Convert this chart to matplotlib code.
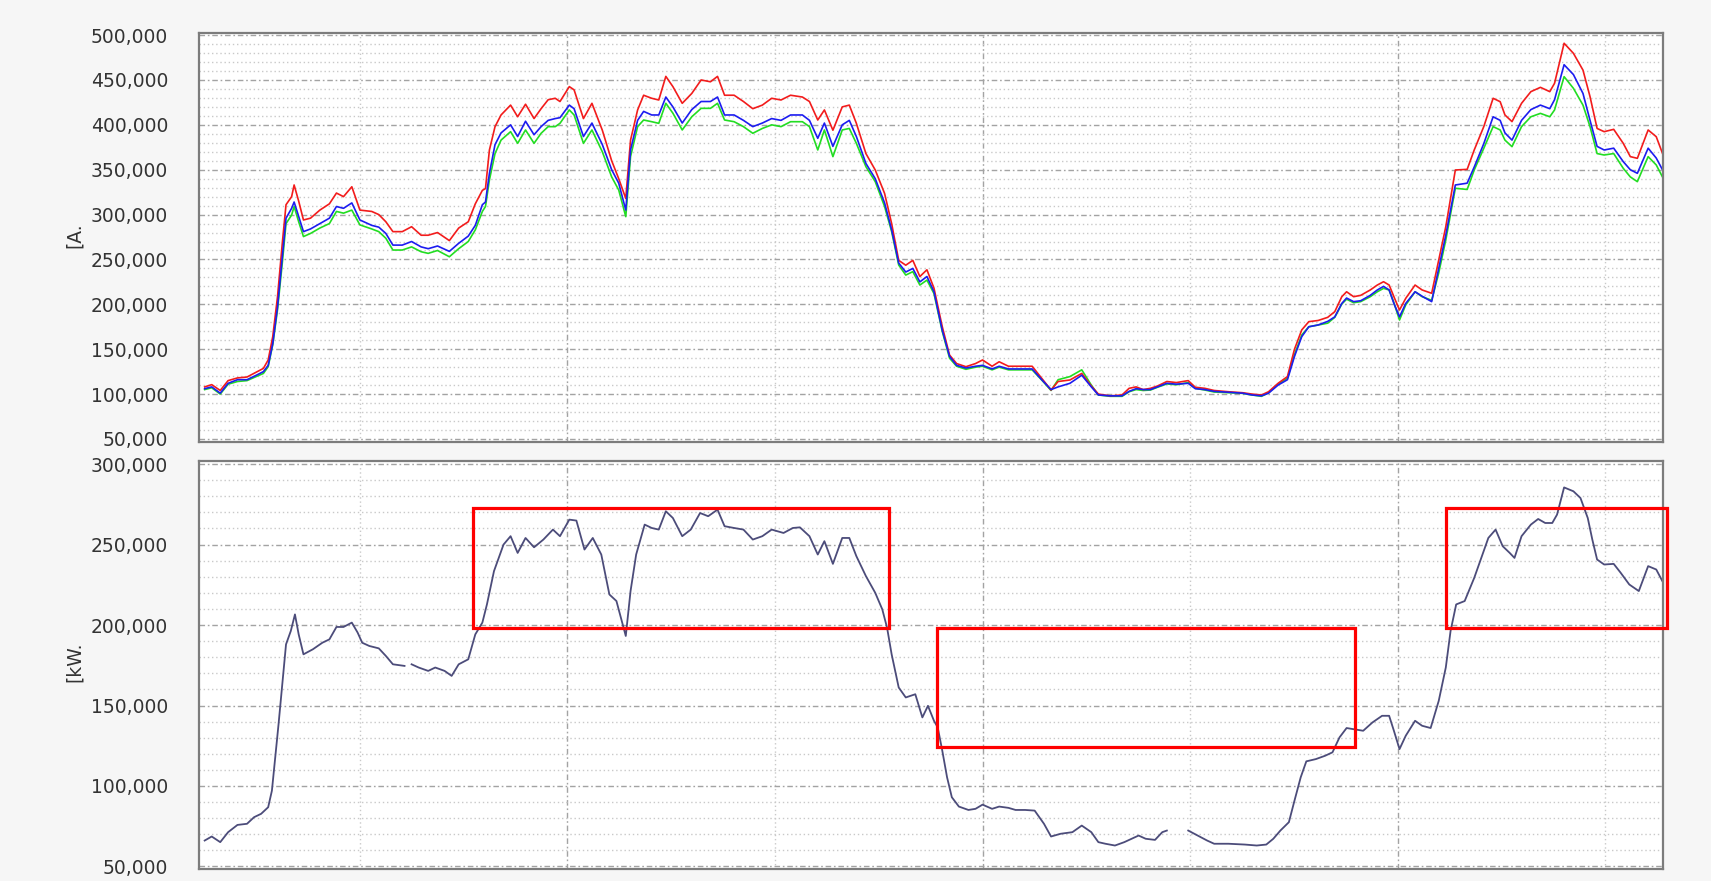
import numpy as np
import matplotlib
matplotlib.use("Agg")
import matplotlib.pyplot as plt
from matplotlib.ticker import FixedLocator, FuncFormatter, MultipleLocator
from matplotlib.patches import Rectangle

# ---- phase currents (top panel) ----
current_x = [
    -0.748, -0.714, -0.673, -0.635, -0.590, -0.544, -0.499, -0.465, -0.442, -0.420,
    -0.397, -0.374, -0.356, -0.329, -0.317, -0.295, -0.272, -0.238, -0.193, -0.147,
    -0.113, -0.079, -0.039, 0.000, 0.057, 0.091, 0.125, 0.159, 0.204, 0.249,
    0.295, 0.329, 0.374, 0.431, 0.476, 0.522, 0.556, 0.590, 0.605, 0.624,
    0.651, 0.680, 0.726, 0.760, 0.798, 0.839, 0.873, 0.907, 0.941, 0.964,
    1.009, 1.032, 1.077, 1.118, 1.168, 1.213, 1.247, 1.281, 1.304, 1.338,
    1.367, 1.406, 1.440, 1.474, 1.508, 1.553, 1.599, 1.644, 1.689, 1.723,
    1.757, 1.803, 1.848, 1.893, 1.939, 1.984, 2.029, 2.075, 2.132, 2.166,
    2.206, 2.238, 2.279, 2.324, 2.358, 2.392, 2.438, 2.483, 2.528, 2.562,
    2.596, 2.630, 2.664, 2.698, 2.732, 2.766,
    2.806, 2.841, 2.875, 2.920, 2.966, 3.000, 3.046, 3.080, 3.125, 3.182,
    3.239, 3.285, 3.330, 3.364, 3.421, 3.478, 3.524, 3.558, 3.615, 3.672,
    3.706, 3.740, 3.774, 3.809, 3.843, 3.888, 3.934, 3.991, 4.025, 4.071,
    4.116, 4.185, 4.253, 4.298, 4.344, 4.378, 4.424, 4.469, 4.503, 4.538,
    4.572, 4.617, 4.663, 4.697, 4.731, 4.754, 4.788, 4.822, 4.868, 4.902,
    4.932, 4.959, 4.982, 5.009, 5.039, 5.084, 5.118, 5.164, 5.198, 5.232,
    5.278, 5.335, 5.369, 5.415, 5.460, 5.494, 5.517, 5.551, 5.597, 5.642,
    5.688, 5.733, 5.756, 5.802, 5.847, 5.893, 5.927, 5.961, 5.995, 6.041,
    6.087, 6.121, 6.155, 6.207, 6.246, 6.276,
]

current_red = [
    108000, 110500, 104000, 115000, 118000, 119000, 124500, 128600, 138000, 164000,
    208500, 268000, 311000, 320000, 333000, 315000, 294000, 296000, 305000, 312000,
    324000, 320000, 331000, 305000, 303500, 300000, 292000, 281000, 281000, 286500,
    277000, 277000, 280000, 271000, 285000, 292000, 312000, 327000, 329000, 372000,
    398000, 411000, 422000, 409000, 423000, 407000, 418000, 428000, 429600, 426000,
    442600, 439000, 407000, 424000, 394000, 360000, 340000, 318000, 383000, 416600,
    433000, 429600, 427700, 454000, 442600, 424000, 435000, 450000, 448000, 454000,
    433000, 433000, 426000, 418000, 422000, 429600, 427700, 433000, 431000, 426000,
    405400, 416600, 394000, 420000, 422000, 401700, 368000, 349700, 323600, 290000,
    249000, 243600, 249000, 231000, 238500, 218000,
    175000, 143500, 134000, 130500, 134000, 138000, 131000, 136000, 131000, 131000,
    131000, 117600, 104500, 114000, 115700, 123000, 109000, 100000, 98000, 99000,
    106400, 108000, 105000, 106400, 109000, 114000, 112800, 115000, 107600, 106400,
    104000, 102600, 101500, 100000, 99000, 102600, 112000, 119500, 150000, 171500,
    180700, 182000, 185500, 191800, 208500, 214000, 208500, 210000, 216000, 221500,
    225200, 221500, 208500, 193700, 206700, 221500, 216000, 212300, 249400, 286500,
    349700, 350400, 372000, 398000, 429600, 425800, 411000, 403600, 424000, 437000,
    441800, 437000, 446300, 490900, 479700, 461000, 431400, 396000, 392400, 395000,
    379400, 364600, 362700, 394300, 386800, 368300,
]

current_blue = [
    106000, 108000, 101000, 112000, 116000, 116000, 121000, 125000, 132000, 156000,
    197000, 253000, 296000, 307000, 314000, 298000, 281000, 284000, 290000, 296000,
    309000, 307000, 313000, 294000, 288000, 286000, 279000, 266000, 266000, 270000,
    264000, 262000, 265000, 259000, 268000, 276000, 288000, 311000, 314000, 346000,
    378000, 391000, 400000, 387000, 404000, 389000, 398000, 405000, 407000, 408000,
    422000, 418000, 387000, 402000, 378000, 350000, 335000, 305000, 372000, 405000,
    415000, 411000, 411000, 431000, 420000, 402000, 417000, 426000, 426000, 431000,
    411000, 411000, 405000, 398000, 402000, 407000, 405000, 411000, 411000, 405000,
    385000, 402000, 376000, 400000, 405000, 387000, 357000, 340000, 313000, 283000,
    246000, 236000, 240000, 225000, 231000, 214000,
    171000, 142000, 132000, 129000, 131000, 132000, 128000, 131000, 128000, 128000,
    128000, 116000, 105000, 108000, 112000, 121000, 108000, 99000, 98000, 98000,
    103000, 106000, 105000, 105000, 108000, 112000, 111000, 112000, 106000, 105000,
    103000, 102000, 101000, 99000, 98000, 101000, 110000, 116000, 142000, 164000,
    175000, 177000, 181000, 186000, 201000, 207000, 203000, 204000, 210000, 216000,
    220000, 216000, 201000, 186000, 201000, 214000, 209000, 203000, 240000, 277000,
    333000, 335000, 353000, 379000, 409000, 405000, 391000, 383000, 405000, 417000,
    422000, 418000, 428000, 467000, 456000, 435000, 405000, 376000, 372000, 374000,
    359000, 350000, 346000, 374000, 363000, 350000,
]

current_green = [
    105000, 107000, 100000, 111000, 114000, 115000, 119500, 123000, 130500, 155000,
    194000, 246000, 290000, 299500, 309000, 292000, 275500, 279000, 285000, 290000,
    303500, 301600, 305000, 288500, 284000, 281000, 273600, 260500, 260500, 264000,
    258600, 256800, 260000, 253000, 262000, 270000, 283000, 303500, 309000, 338600,
    368000, 383000, 392400, 379400, 394300, 379400, 390600, 398000, 398000, 401700,
    416600, 411000, 379400, 394300, 370000, 342000, 327400, 297700, 364600, 398000,
    405400, 403500, 401700, 424000, 413000, 394300, 409000, 418400, 418400, 424000,
    405400, 403500, 398000, 390600, 396000, 400000, 398000, 403500, 403500, 398000,
    372000, 394300, 364600, 394300, 396000, 379400, 353400, 336700, 309000, 281000,
    243800, 232600, 236400, 221500, 227000, 212000,
    169700, 140000, 131000, 127600, 130000, 131000, 127000, 130000, 127000, 127000,
    127000, 115700, 104000, 116000, 119500, 127000, 110000, 99000, 97500, 97500,
    102600, 105000, 104000, 104500, 107600, 111300, 110400, 112800, 106400, 104500,
    102300, 101500, 100800, 99000, 97500, 101500, 111300, 117600, 144000, 165800,
    175000, 177000, 179000, 185500, 200400, 205700, 201800, 203000, 208500, 214000,
    217800, 216000, 201800, 182500, 199300, 214000, 208500, 204500, 235000, 271700,
    329300, 328000, 349700, 373800, 398000, 394300, 383000, 375700, 398000, 409000,
    412800, 409000, 416600, 453700, 440700, 422000, 398000, 368000, 366400, 368000,
    351600, 342000, 336700, 364600, 355300, 342000,
]

# ---- active power (bottom panel); None marks missing samples ----
power_x = [
    -0.748, -0.714, -0.673, -0.635, -0.590, -0.544, -0.510, -0.476, -0.442, -0.424,
    -0.408, -0.392, -0.374, -0.356, -0.333, -0.313, -0.295, -0.272, -0.227, -0.181,
    -0.147, -0.113, -0.079, -0.039, -0.011, 0.011, 0.045, 0.091, 0.125, 0.159,
    0.215, 0.232, 0.249, 0.283, 0.329, 0.363, 0.408, 0.442, 0.476, 0.522,
    0.556, 0.590, 0.612, 0.646, 0.692, 0.726, 0.760, 0.798, 0.839, 0.884,
    0.930, 0.964, 1.009, 1.043, 1.082, 1.122, 1.163, 1.202, 1.236, 1.281,
    1.304, 1.331, 1.372, 1.406, 1.440, 1.474, 1.508, 1.553, 1.594, 1.639,
    1.678, 1.723, 1.757, 1.803, 1.848, 1.893, 1.939, 1.984, 2.041, 2.086,
    2.120, 2.166, 2.206, 2.238, 2.279, 2.324, 2.358, 2.392, 2.438, 2.483,
    2.517, 2.540, 2.562, 2.596, 2.630, 2.676, 2.710, 2.737, 2.766,
    2.784, 2.806, 2.829, 2.852, 2.886, 2.932, 2.966, 3.000, 3.046, 3.080,
    3.125, 3.159, 3.205, 3.251, 3.296, 3.330, 3.376, 3.433, 3.478, 3.524,
    3.558, 3.592, 3.638, 3.683, 3.718, 3.752, 3.786, 3.831, 3.866, 3.888,
    3.940, 3.991, 4.036, 4.082, 4.116, 4.185, 4.264, 4.321, 4.367, 4.401,
    4.435, 4.476, 4.503, 4.533, 4.560, 4.606, 4.651, 4.686, 4.720, 4.754,
    4.788, 4.834, 4.879, 4.925, 4.959, 4.982, 5.009, 5.039, 5.084, 5.118,
    5.159, 5.198, 5.232, 5.255, 5.282, 5.323, 5.369, 5.403, 5.437, 5.472,
    5.506, 5.540, 5.563, 5.597, 5.642, 5.677, 5.711, 5.745, 5.768, 5.802,
    5.847, 5.881, 5.916, 5.938, 5.961, 5.995, 6.041, 6.075, 6.116, 6.162,
    6.207, 6.246, 6.280,
]

power_kw = [
    66100, 68600, 65100, 71300, 75800, 76500, 80600, 82700, 86800, 97100,
    117800, 138400, 163200, 188000, 196300, 206600, 194200, 181800, 184900, 189000,
    191100, 198800, 198800, 201500, 195300, 189000, 187000, 185500, 180800, 175600,
    174600, None, 175600, 173600, 171500, 173600, 171500, 168400, 175600, 178700,
    194200, 201500, 212800, 233500, 250000, 255200, 244800, 254100, 248300, 253100,
    259300, 255200, 265500, 264900, 246900, 254100, 243800, 219000, 214900, 193200,
    221100, 243800, 262400, 260300, 259300, 270700, 266500, 255200, 259300, 269600,
    267600, 271700, 261400, 260300, 259300, 253100, 255200, 259300, 257200, 260300,
    260700, 255200, 243800, 252100, 238000, 254100, 254100, 242800, 230400, 220000,
    209700, 198300, 181800, 161200, 155000, 157000, 142600, 149800, 140500,
    136400, 121900, 105400, 93000, 87200, 85100, 85800, 88400, 85800, 87200,
    86400, 85100, 85100, 84700, 76500, 68600, 70300, 71300, 75400, 71300,
    65100, 64100, 63000, 65100, 67200, 69200, 67200, 66500, 71300, 72300,
    None, 72300, 69200, 66100, 64100, 64100, 63600, 63000, 63600, 67200,
    72300, 77500, 90900, 105400, 115300, 116700, 118800, 120900, 130200, 136000,
    135300, 134300, 139500, 143600, 143600, 134300, 122900, 131200, 140500, 137400,
    136000, 152900, 173600, 196300, 212800, 214900, 229300, 241700, 254100, 259300,
    249000, 244800, 241700, 255200, 262400, 265900, 263400, 263400, 268600, 285500,
    283100, 278900, 266500, 253100, 240700, 237600, 238000, 232400, 225200, 221100,
    236600, 234500, 226200,
]

current_ticks = [50000, 100000, 150000, 200000, 250000, 300000, 350000, 400000, 450000, 500000]
power_ticks = [50000, 100000, 150000, 200000, 250000, 300000]

# highlighted operating windows on the power panel
window_start = [0.544, 2.781, 5.232]
window_end = [2.551, 4.793, 6.296]
window_low = [198300, 124400, 198300]
window_high = [272700, 198300, 272700]

BG = "#f6f6f6"
TXT = "#333333"

fig = plt.figure(figsize=(17.11, 8.81), dpi=100, facecolor=BG)
ax_top = fig.add_axes([0.1161, 0.4980, 0.8559, 0.4649])
ax_bot = fig.add_axes([0.1161, 0.0136, 0.8559, 0.4631])


def style_panel(ax, ticks, ylim):
    ax.set_facecolor("white")
    ax.set_xlim(-0.777, 6.279)
    ax.set_ylim(*ylim)
    ax.yaxis.set_major_locator(FixedLocator(ticks))
    ax.yaxis.set_minor_locator(MultipleLocator(10000))
    ax.yaxis.set_major_formatter(FuncFormatter(lambda v, p: f"{int(round(v)):,}"))
    ax.xaxis.set_major_locator(FixedLocator([1, 3, 5]))
    ax.xaxis.set_minor_locator(FixedLocator([0, 2, 4, 6]))
    ax.tick_params(which="both", length=0)
    ax.tick_params(axis="x", labelbottom=False)
    ax.tick_params(axis="y", labelsize=13.5, labelcolor=TXT, pad=22)
    ax.grid(which="major", color="#a3a3a3", lw=1.0, ls=(0, (4, 2, 1.2, 2)))
    ax.grid(which="minor", color="#c9c9c9", lw=1.0, ls=(0, (1, 2)))
    ax.set_axisbelow(True)
    for s in ax.spines.values():
        s.set_color("#7c7c7c")
        s.set_linewidth(1.6)


style_panel(ax_top, current_ticks, (46300, 502700))
style_panel(ax_bot, power_ticks, (48400, 301900))

ax_top.plot(current_x, current_green, color="#22dd22", lw=1.2)
ax_top.plot(current_x, current_red, color="#f21c1c", lw=1.2)
ax_top.plot(current_x, current_blue, color="#1c1cf0", lw=1.2)

power = np.array(power_kw, dtype=float)
ax_bot.plot(power_x, power, color="#4c4c7a", lw=1.3)

for x0, x1, lo, hi in zip(window_start, window_end, window_low, window_high):
    ax_bot.add_patch(Rectangle((x0, lo), x1 - x0, hi - lo, fill=False,
                               ec="#ff0000", lw=2.3, clip_on=False, zorder=5))

fig.text(0.0432, 0.7333, "[A.", rotation=90, ha="center", va="center",
         fontsize=13.5, color=TXT)
fig.text(0.0432, 0.2486, "[kW.", rotation=90, ha="center", va="center",
         fontsize=13.5, color=TXT)

fig.savefig("out.png", dpi=100, facecolor=BG)
